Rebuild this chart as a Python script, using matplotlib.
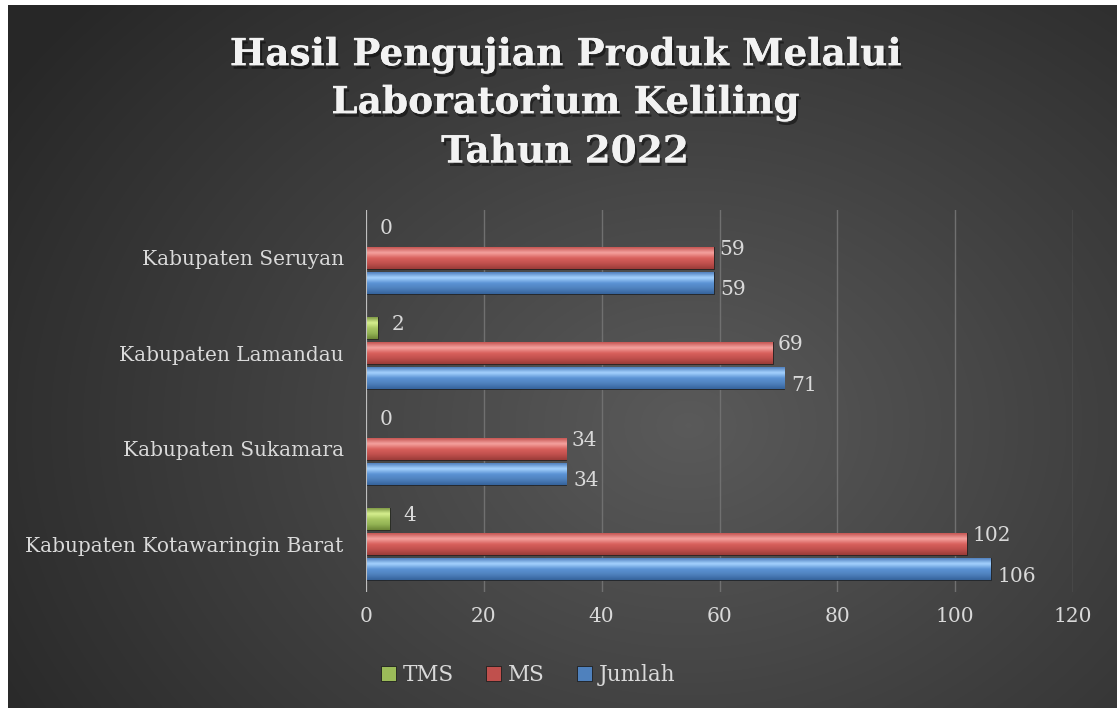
import numpy as np
import matplotlib
matplotlib.use("Agg")
import matplotlib.pyplot as plt
import matplotlib.patheffects as pe
from matplotlib.colors import LinearSegmentedColormap

# Data
categories = ["Kabupaten Seruyan", "Kabupaten Lamandau",
              "Kabupaten Sukamara", "Kabupaten Kotawaringin Barat"]
series_names = ["TMS", "MS", "Jumlah"]
tms = [0, 2, 0, 4]
ms = [59, 69, 34, 102]
jumlah = [59, 71, 34, 106]
x_ticks = [0, 20, 40, 60, 80, 100, 120]

W, H = 1117, 708
fig = plt.figure(figsize=(W / 100, H / 100), dpi=100)
fig.patch.set_facecolor("white")
plt.rcParams['font.family'] = ['DejaVu Serif']

# dark radial background
bg = fig.add_axes([8 / W, 0, 1 - 8 / W, 1 - 5 / H])
bg.set_axis_off()
yy, xx = np.mgrid[0:703, 0:1109]
r = np.sqrt(((xx - 680) / 820.0) ** 2 + ((yy - 420) / 640.0) ** 2)
r = np.clip(r, 0, 1)
bg_cmap = LinearSegmentedColormap.from_list("bg", ["#5a5a5a", "#404040", "#272727"])
bg.imshow(r, cmap=bg_cmap, aspect="auto", vmin=0, vmax=1, zorder=0)

# title with soft shadow
title_lines = ["Hasil Pengujian Produk Melalui", "Laboratorium Keliling", "Tahun 2022"]
title_y = [55, 103, 152]
for line, ty in zip(title_lines, title_y):
    fig.text(565 / W, 1 - ty / H, line, ha="center", va="center",
             fontsize=27, fontweight="bold", color="#f2f2f2",
             path_effects=[pe.withSimplePatchShadow(offset=(1.5, -2.5), shadow_rgbFace="black", alpha=0.45),
                           pe.Normal()])

ax = fig.add_axes([366 / W, (H - 592) / H, (1073 - 366) / W, (592 - 210) / H])
ax.set_facecolor("none")

ypos = np.arange(len(categories))
bar_h = 0.23
step = 0.262

grad_specs = {
    "TMS": ["#7f9a45", "#d7f08f", "#a9c763", "#93b354", "#6c8736"],
    "MS": ["#c55552", "#f5a3a0", "#d9605c", "#c0504d", "#9a3c39"],
    "Jumlah": ["#4f7fbd", "#a6d3ff", "#5b93d4", "#4f81bd", "#35639c"],
}
legend_colors = {"TMS": "#9bbb59", "MS": "#c0504d", "Jumlah": "#4f81bd"}

series = [tms, ms, jumlah]
offsets = [-step, 0, step]
label_dx = [10, 4, 5]       # px to the right of bar end
label_dy = [3, 6, -5]       # px up from bar centre

for name, vals, off, dx, dy in zip(series_names, series, offsets, label_dx, label_dy):
    cmap = LinearSegmentedColormap.from_list(name, grad_specs[name])
    grad = np.linspace(0, 1, 64).reshape(-1, 1)
    bars = ax.barh(ypos + off, vals, height=bar_h, color=legend_colors[name],
                   edgecolor="#1e1e1e", linewidth=0.6, label=name, zorder=3)
    for b, v in zip(bars, vals):
        if v <= 0:
            continue
        y0 = b.get_y()
        im = ax.imshow(grad, cmap=cmap, aspect="auto", zorder=4,
                       extent=(0, v, y0 + bar_h, y0), interpolation="bicubic")
        im.set_clip_path(b)
    for yv, v in zip(ypos + off, vals):
        ax.annotate(str(v), xy=(v, yv), xytext=(dx, dy), textcoords="offset points",
                    ha="left", va="center", fontsize=14.5, color="#d9d9d9", zorder=6)

ax.set_xlim(0, 120)
ax.set_ylim(len(categories) - 0.5, -0.5)
ax.set_xticks(x_ticks)
ax.set_xticklabels([str(t) for t in x_ticks])
ax.set_yticks(ypos)
ax.set_yticklabels(categories)
ax.tick_params(axis="both", length=0, colors="#d9d9d9", labelsize=14.5)
ax.tick_params(axis="x", pad=11)
ax.tick_params(axis="y", pad=16)
for s in ax.spines.values():
    s.set_visible(False)
ax.grid(axis="x", color="#707070", linewidth=1, zorder=1)
ax.set_axisbelow(True)
ax.axvline(0, color="#bfbfbf", linewidth=1.5, zorder=5)

handles, labels = ax.get_legend_handles_labels()
leg = fig.legend(handles, labels, loc="center", bbox_to_anchor=(528 / W, 1 - 675 / H),
                 ncol=3, frameon=False, fontsize=15.5, handlelength=0.7, handleheight=0.7,
                 handletextpad=0.3, columnspacing=1.5, labelcolor="#d9d9d9")

fig.savefig("out.png", dpi=100, facecolor=fig.get_facecolor())
